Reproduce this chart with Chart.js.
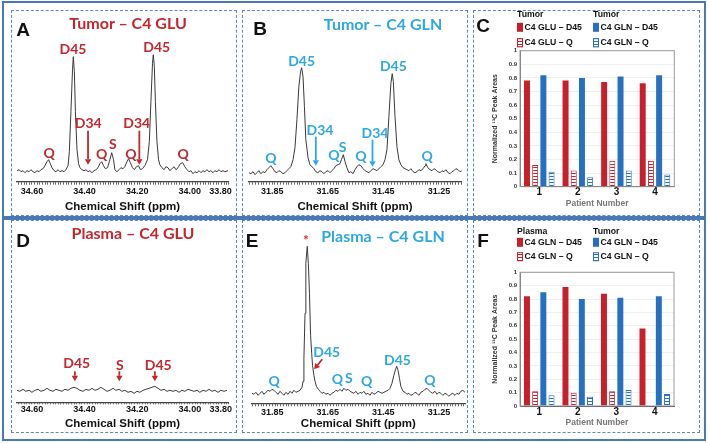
<!DOCTYPE html>
<html><head><meta charset="utf-8">
<script src="https://cdn.jsdelivr.net/npm/chart.js@4/dist/chart.umd.min.js"></script>
<style>
html,body{margin:0;padding:0;background:#fff;}
body{width:708px;height:443px;position:relative;overflow:hidden;font-family:'Liberation Sans',Arial,sans-serif;}
.frame{position:absolute;border:2px solid #4a78b4;box-sizing:border-box;}
.panel{position:absolute;border:1.5px dashed #5a88c4;box-sizing:border-box;}
canvas{position:absolute;}
.letter{position:absolute;font:bold 19px 'Liberation Sans',Arial,sans-serif;color:#111;transform:translate(-50%,-50%);line-height:1;}
.title{position:absolute;font:bold 16px Lato,'Open Sans',sans-serif;transform:translate(-50%,-50%);white-space:nowrap;line-height:1;}
</style></head>
<body>
<div class="frame" style="left:2px;top:1px;width:704px;height:219px"></div>
<div class="frame" style="left:2px;top:216px;width:704px;height:225px"></div>
<div class="panel" style="left:11px;top:10px;width:226px;height:206px"></div>
<div class="panel" style="left:242px;top:10px;width:226px;height:206px"></div>
<div class="panel" style="left:473px;top:10px;width:227px;height:206px"></div>
<div class="panel" style="left:11px;top:220px;width:226px;height:213px"></div>
<div class="panel" style="left:242px;top:220px;width:226px;height:213px"></div>
<div class="panel" style="left:473px;top:220px;width:227px;height:213px"></div>

<canvas id="cA" width="224" height="204" style="left:12px;top:11px"></canvas>
<canvas id="cB" width="224" height="204" style="left:243px;top:11px"></canvas>
<canvas id="cC" width="226" height="204" style="left:474px;top:11px"></canvas>
<canvas id="cD" width="224" height="211" style="left:12px;top:221px"></canvas>
<canvas id="cE" width="224" height="211" style="left:243px;top:221px"></canvas>
<canvas id="cF" width="226" height="211" style="left:474px;top:221px"></canvas>

<div class="letter" style="left:23px;top:29px">A</div>
<div class="letter" style="left:260px;top:28px">B</div>
<div class="letter" style="left:483px;top:25px">C</div>
<div class="letter" style="left:23px;top:240px">D</div>
<div class="letter" style="left:252px;top:240px">E</div>
<div class="letter" style="left:483px;top:240px">F</div>
<div class="title" style="left:128px;top:23px;color:#c4262e">Tumor – C4 GLU</div>
<div class="title" style="left:383px;top:24px;color:#2ea8e0">Tumor – C4 GLN</div>
<div class="title" style="left:133px;top:233px;color:#c4262e">Plasma – C4 GLU</div>
<div class="title" style="left:383px;top:236px;color:#2ea8e0">Plasma – C4 GLN</div>

<script>
// ---------- Spectrum A (Tumor C4 GLU) ----------
const aPpm = [34.657,34.649,34.642,34.634,34.627,34.619,34.611,34.604,34.596,34.589,34.581,34.573,34.566,34.558,34.551,34.543,34.537,34.532,34.524,34.516,34.509,34.501,34.494,34.486,34.478,34.471,34.463,34.458,34.452,34.446,34.443,34.439,34.435,34.429,34.423,34.418,34.410,34.402,34.395,34.387,34.380,34.372,34.364,34.357,34.349,34.342,34.335,34.328,34.321,34.313,34.306,34.297,34.290,34.285,34.277,34.269,34.262,34.254,34.247,34.239,34.233,34.226,34.218,34.211,34.203,34.195,34.188,34.180,34.171,34.161,34.154,34.148,34.142,34.139,34.135,34.131,34.125,34.119,34.114,34.106,34.098,34.091,34.083,34.076,34.068,34.060,34.053,34.045,34.036,34.027,34.019,34.011,34.003,33.996,33.988,33.981,33.973,33.965,33.958,33.950,33.943,33.935,33.927,33.920,33.912,33.905,33.897,33.889,33.882,33.874,33.867,33.855];
const aInt = [11,12,10,11,9,11,10,12,10,9,11,10,12,13,16,20,22,19,14,11,10,12,10,11,10,12,16,30,70,112,125,110,70,32,18,14,12,11,12,10,11,9,11,12,14,18,20,16,13,14,20,29,22,12,10,12,14,13,15,20,23,19,14,12,15,16,12,13,16,22,40,80,118,127,115,80,40,22,17,14,12,15,14,11,13,15,12,14,18,19,15,12,10,11,8,10,9,11,9,11,10,12,10,11,9,11,10,12,10,11,10,11];
const aLabels = [['D45',34.444,132],['D45',34.126,134],['Q',34.535,28],['D34',34.386,58],['Q',34.335,27],['S',34.293,37],['Q',34.224,27],['D34',34.202,58],['Q',34.025,27]];
const aArrows = [[34.387,51,34.387,17],[34.192,51,34.192,17]];

// ---------- Spectrum B (Tumor C4 GLN) ----------
const bPpm = [31.934,31.927,31.919,31.912,31.905,31.898,31.891,31.883,31.876,31.869,31.862,31.855,31.847,31.840,31.833,31.826,31.819,31.811,31.804,31.797,31.790,31.783,31.775,31.768,31.761,31.754,31.748,31.744,31.739,31.734,31.729,31.721,31.714,31.707,31.700,31.693,31.686,31.678,31.671,31.664,31.657,31.649,31.642,31.635,31.628,31.621,31.613,31.606,31.601,31.594,31.588,31.581,31.574,31.567,31.559,31.552,31.545,31.538,31.531,31.523,31.516,31.509,31.502,31.495,31.487,31.480,31.473,31.466,31.459,31.451,31.444,31.437,31.430,31.423,31.418,31.414,31.408,31.401,31.394,31.387,31.379,31.372,31.365,31.358,31.351,31.343,31.336,31.329,31.322,31.315,31.307,31.300,31.297,31.290,31.282,31.275,31.268,31.261,31.254,31.246,31.239,31.232,31.225,31.217,31.210,31.203,31.196,31.189,31.181,31.174,31.167];
const bInt = [9,8,10,7,9,11,8,10,9,12,14,16,13,10,9,11,10,8,9,11,13,15,22,34,62,95,110,114,105,75,42,24,17,15,13,10,9,11,10,8,10,11,9,11,13,16,17,18,22,27,20,14,9,10,8,12,15,17,16,13,11,10,9,11,13,12,11,13,15,17,22,32,65,98,108,100,65,35,22,17,14,13,12,11,13,10,9,10,12,11,13,16,18,14,12,11,13,12,10,9,11,10,12,9,8,10,11,13,12,10,11];
const bLabels = [['D45',31.744,120],['D45',31.414,115],['Q',31.855,23],['D34',31.678,51],['Q',31.628,26],['S',31.597,34],['Q',31.531,25],['D34',31.480,48],['Q',31.292,25]];
const bArrows = [[31.693,45,31.693,16],[31.489,42,31.489,15]];

// ---------- Spectrum D (Plasma C4 GLU) ----------
const dPpm = [34.657,34.646,34.634,34.623,34.611,34.600,34.589,34.577,34.566,34.554,34.543,34.532,34.520,34.509,34.497,34.486,34.475,34.463,34.452,34.440,34.429,34.418,34.406,34.395,34.383,34.372,34.361,34.349,34.338,34.326,34.315,34.304,34.292,34.281,34.269,34.258,34.247,34.235,34.224,34.212,34.201,34.190,34.178,34.167,34.155,34.144,34.133,34.121,34.110,34.098,34.087,34.076,34.064,34.053,34.041,34.030,34.019,34.007,33.996,33.984,33.973,33.962,33.950,33.939,33.927,33.916,33.905,33.893,33.882,33.870,33.859];
const dInt = [12,11,13,11,12,10,12,13,11,12,14,12,11,13,12,11,13,12,14,15,14,12,11,13,12,14,12,13,15,13,11,12,14,12,13,11,12,10,11,9,11,10,12,13,14,15,16,14,12,13,11,12,11,12,10,12,11,13,12,11,12,10,12,11,13,11,12,10,12,11,12];
const dLabels = [['D45',34.430,39],['S',34.266,37],['D45',34.120,37]];
const dArrows = [[34.437,31,34.437,21],[34.268,31,34.268,21],[34.133,31,34.133,21]];

// ---------- Spectrum E (Plasma C4 GLN) ----------
const ePpm = [31.923,31.916,31.909,31.901,31.894,31.887,31.880,31.873,31.865,31.858,31.851,31.844,31.837,31.829,31.822,31.815,31.808,31.801,31.793,31.786,31.779,31.772,31.765,31.757,31.750,31.743,31.739,31.736,31.732,31.729,31.724,31.720,31.716,31.712,31.708,31.705,31.700,31.696,31.691,31.684,31.678,31.671,31.664,31.657,31.649,31.642,31.635,31.628,31.621,31.613,31.606,31.599,31.592,31.585,31.577,31.570,31.563,31.556,31.549,31.541,31.534,31.527,31.520,31.513,31.505,31.498,31.491,31.484,31.477,31.469,31.462,31.455,31.448,31.441,31.433,31.426,31.419,31.412,31.406,31.402,31.397,31.392,31.387,31.379,31.372,31.365,31.358,31.351,31.343,31.336,31.329,31.322,31.315,31.307,31.300,31.293,31.286,31.279,31.272,31.264,31.257,31.250,31.243,31.236,31.228,31.221,31.214,31.207,31.200,31.192,31.185,31.178,31.171,31.164,31.156];
const eInt = [10,9,11,8,10,12,9,11,13,12,14,13,11,9,12,10,8,11,9,12,10,13,11,12,13,16,22,45,90,140,157,140,110,68,50,38,28,22,17,14,12,10,11,9,10,8,10,11,13,12,14,12,15,13,14,12,11,10,12,9,11,10,12,9,10,8,11,9,10,12,11,10,11,12,13,15,20,28,34,37,33,25,17,12,11,9,10,8,9,11,10,8,11,12,14,15,13,11,10,12,9,11,10,8,10,9,7,9,10,8,10,9,12,13,11];
const eLabels = [['*',31.729,163,'#e8232b'],['D45',31.654,51],['Q',31.843,22],['Q',31.615,24],['S',31.574,25],['Q',31.510,22],['D45',31.399,43],['Q',31.282,23]];
const eArrows = [[31.670,44,31.699,34,'#d0202a']];

// ---------- Bar charts ----------
const patients = ['1','2','3','4'];
const cGluD45 = [0.78,0.78,0.77,0.76];
const cGluQ   = [0.16,0.12,0.19,0.19];
const cGlnD45 = [0.82,0.80,0.81,0.82];
const cGlnQ   = [0.11,0.07,0.12,0.09];
const fPlasmaD45 = [0.82,0.89,0.84,0.58];
const fPlasmaQ   = [0.11,0.10,0.11,0];
const fTumorD45  = [0.85,0.80,0.81,0.82];
const fTumorQ    = [0.08,0.07,0.12,0.09];
const cHeaders = ['Tumor','Tumor'];
const fHeaders = ['Plasma','Tumor'];
const cNames = ['C4 GLU – D45','C4 GLU – Q','C4 GLN – D45','C4 GLN – Q'];
const fNames = ['C4 GLN – D45','C4 GLN – Q','C4 GLN – D45','C4 GLN – Q'];
const yTickVals = [0,0.1,0.2,0.3,0.4,0.5,0.6,0.7,0.8,0.9,1];

const RED_T = '#c4262e', BLUE_T = '#2ea8e0';
const RED_B = '#c8202b', BLUE_B = '#2670c2';

const annotPlugin = {
  id: 'annot',
  afterDatasetsDraw(chart, args, o) {
    if (!o || !o.labels) return;
    const ctx = chart.ctx, x = chart.scales.x, y = chart.scales.y;
    ctx.save();
    ctx.textAlign = 'center'; ctx.textBaseline = 'middle';
    ctx.font = o.font;
    o.labels.forEach(l => {
      ctx.fillStyle = l[3] || o.color;
      ctx.fillText(l[0], x.getPixelForValue(l[1]), y.getPixelForValue(l[2]));
    });
    (o.arrows || []).forEach(a => {
      const x1 = x.getPixelForValue(a[0]), y1 = y.getPixelForValue(a[1]);
      const x2 = x.getPixelForValue(a[2]), y2 = y.getPixelForValue(a[3]);
      const col = a[4] || o.color;
      ctx.strokeStyle = col; ctx.fillStyle = col; ctx.lineWidth = 1.8;
      const ang = Math.atan2(y2 - y1, x2 - x1), hl = 5.5, hw = 3.2;
      const bx = x2 - hl * Math.cos(ang), by = y2 - hl * Math.sin(ang);
      ctx.beginPath(); ctx.moveTo(x1, y1); ctx.lineTo(bx, by); ctx.stroke();
      ctx.beginPath(); ctx.moveTo(x2, y2);
      ctx.lineTo(bx - hw * Math.sin(ang), by + hw * Math.cos(ang));
      ctx.lineTo(bx + hw * Math.sin(ang), by - hw * Math.cos(ang));
      ctx.closePath(); ctx.fill();
    });
    ctx.restore();
  }
};

function spectrum(id, ppm, inten, o) {
  const majors = o.majors.map(v => Math.round(v * 100));
  new Chart(document.getElementById(id), {
    type: 'line',
    data: { datasets: [{ data: ppm.map((p, i) => ({ x: p, y: inten[i] })), borderColor: '#3a3a3a', borderWidth: 1, pointRadius: 0, tension: 0 }] },
    options: {
      responsive: false, animation: false, events: [],
      layout: { padding: { left: o.pl, right: o.pr, top: o.pt, bottom: 0 } },
      scales: {
        x: {
          type: 'linear', reverse: true, min: o.min, max: o.max,
          afterBuildTicks(s) {
            const t = [];
            for (let k = Math.ceil(o.min * 100); k <= Math.floor(o.max * 100); k++) t.push({ value: k / 100 });
            if (o.endLabel) t.unshift({ value: o.min });
            s.ticks = t;
          },
          afterFit(s) { s.height = o.xh; s.paddingLeft = 0; s.paddingRight = 0; },
          ticks: {
            autoSkip: false, maxRotation: 0, padding: o.tp, color: '#111',
            font: { family: "'Liberation Sans', Arial, sans-serif", size: 9, weight: 'bold' },
            callback(v) {
              if (o.endLabel && Math.abs(v - o.min) < 1e-9) return o.endLabel;
              return majors.includes(Math.round(v * 100)) ? v.toFixed(2) : '';
            }
          },
          grid: { drawOnChartArea: false, tickLength: o.tl, color: '#666', tickWidth: 1 },
          border: { color: '#444', width: 1.2 },
          title: { display: true, text: 'Chemical Shift (ppm)', color: '#111', padding: { top: 0, bottom: o.tb },
            font: { family: "'Liberation Sans', Arial, sans-serif", size: 11.5, weight: 'bold' } }
        },
        y: { display: false, min: 0, max: o.ymax }
      },
      plugins: { legend: { display: false }, tooltip: { enabled: false },
        annot: { labels: o.labels, arrows: o.arrows, color: o.color, font: "bold 14px Lato, 'Open Sans', sans-serif" } }
    },
    plugins: [annotPlugin]
  });
}

spectrum('cA', aPpm, aInt, { min: 33.855, max: 34.657, majors: [34.6, 34.4, 34.2, 34.0], endLabel: '33.80\u2007\u2007\u2007',
  pl: 5, pr: 8, pt: 20.7, xh: 33.3, ymax: 150, tl: 3, tp: 1.6, tb: 1.4, labels: aLabels, arrows: aArrows, color: RED_T });
spectrum('cB', bPpm, bInt, { min: 31.168, max: 31.936, majors: [31.85, 31.65, 31.45, 31.25],
  pl: 5.3, pr: 5.3, pt: 20.7, xh: 33.3, ymax: 150, tl: 3, tp: 1.6, tb: 1.4, labels: bLabels, arrows: bArrows, color: BLUE_T });
spectrum('cD', dPpm, dInt, { min: 33.854, max: 34.658, majors: [34.6, 34.4, 34.2, 34.0], endLabel: '33.80\u2007\u2007\u2007',
  pl: 4.7, pr: 7.7, pt: 31.3, xh: 29.7, ymax: 150, tl: 2, tp: 0.2, tb: 1.1, labels: dLabels, arrows: dArrows, color: RED_T });
spectrum('cE', ePpm, eInt, { min: 31.156, max: 31.924, majors: [31.85, 31.65, 31.45, 31.25],
  pl: 8.7, pr: 2, pt: 12.3, xh: 28.7, ymax: 170, tl: 3, tp: 0.6, tb: 0.8, labels: eLabels, arrows: eArrows, color: BLUE_T });

function hatch(color) {
  const c = document.createElement('canvas'); c.width = 4; c.height = 3;
  const x = c.getContext('2d');
  x.fillStyle = '#fff'; x.fillRect(0, 0, 4, 3);
  x.fillStyle = color; x.fillRect(0, 0, 4, 1);
  return x.createPattern(c, 'repeat');
}

const barLegendPlugin = {
  id: 'barLegend',
  afterDraw(chart, args, o) {
    if (!o || !o.headers) return;
    const ctx = chart.ctx, ca = chart.chartArea, ds = chart.data.datasets;
    ctx.save();
    // plot box
    ctx.strokeStyle = '#9a9a9a'; ctx.lineWidth = 1;
    ctx.strokeRect(ca.left, ca.top, ca.right - ca.left, ca.bottom - ca.top);
    ctx.textBaseline = 'middle'; ctx.textAlign = 'left';
    const font = "bold 8.7px 'Liberation Sans', Arial, sans-serif";
    [0, 1].forEach(col => {
      const x0 = ca.left + o.colX[col];
      ctx.fillStyle = '#111'; ctx.font = font;
      ctx.fillText(o.headers[col], x0, ca.top + o.rowY[0]);
      [0, 1].forEach(r => {
        const d = ds[col * 2 + r];
        const yc = ca.top + o.rowY[r + 1];
        ctx.fillStyle = d.backgroundColor;
        ctx.fillRect(x0, yc - 4.5, 6, 9);
        if (r === 1) { ctx.strokeStyle = d.borderColor; ctx.lineWidth = 1; ctx.strokeRect(x0 + 0.5, yc - 4, 5, 8); }
        ctx.fillStyle = '#111';
        ctx.fillText(d.label, x0 + 7.5, yc);
      });
    });
    ctx.restore();
  }
};

function bars(id, sets, names, headers, o) {
  const cols = [RED_B, RED_B, BLUE_B, BLUE_B];
  new Chart(document.getElementById(id), {
    type: 'bar',
    data: { labels: patients, datasets: sets.map((s, i) => ({
      label: names[i], data: s,
      backgroundColor: i % 2 ? hatch(cols[i]) : cols[i],
      borderColor: cols[i], borderWidth: i % 2 ? 1 : 0,
      categoryPercentage: 0.85, barPercentage: 0.73 })) },
    options: {
      responsive: false, animation: false, events: [],
      layout: { padding: { left: 14, right: o.pr, top: o.pt, bottom: 0 } },
      scales: {
        x: {
          afterFit(s) { s.height = o.xh; s.paddingLeft = 0; s.paddingRight = 0; },
          grid: { display: false, drawTicks: false },
          border: { color: '#444', width: 1 },
          ticks: { padding: 0, color: '#111', font: { family: "'Liberation Sans', Arial, sans-serif", size: 10, weight: 'bold' } },
          title: { display: true, text: 'Patient Number', color: '#777', padding: { top: 0, bottom: o.tb },
            font: { family: "'Liberation Sans', Arial, sans-serif", size: 8.5, weight: 'bold' } }
        },
        y: {
          min: 0, max: 1,
          afterBuildTicks(s) { s.ticks = yTickVals.map(v => ({ value: v })); },
          afterFit(s) { s.width = 32; },
          grid: { color: '#f0f0f0', drawTicks: false },
          border: { color: '#777', width: 1 },
          ticks: { padding: 3, color: '#333', callback: v => String(v),
            font: { family: "'Liberation Sans', Arial, sans-serif", size: 6, weight: 'bold' } },
          title: { display: true, text: 'Normalized \u00b9\u00b3C Peak Areas', color: '#333', padding: { top: 3, bottom: 0 },
            font: { family: "'Liberation Sans', Arial, sans-serif", size: 7, weight: 'bold' } }
        }
      },
      plugins: { legend: { display: false }, tooltip: { enabled: false },
        barLegend: { headers: headers, colX: [-3, 73], rowY: o.rowY } }
    },
    plugins: [barLegendPlugin]
  });
}

bars('cC', [cGluD45, cGluQ, cGlnD45, cGlnQ], cNames, cHeaders, { pr: 25.7, pt: 39.7, xh: 28.3, tb: 6.2, rowY: [-35.7, -23.4, -8] });
bars('cF', [fPlasmaD45, fPlasmaQ, fTumorD45, fTumorQ], fNames, fHeaders, { pr: 26, pt: 51.3, xh: 26, tb: 3.9, rowY: [-40.6, -30, -15.6] });
</script>
</body></html>
